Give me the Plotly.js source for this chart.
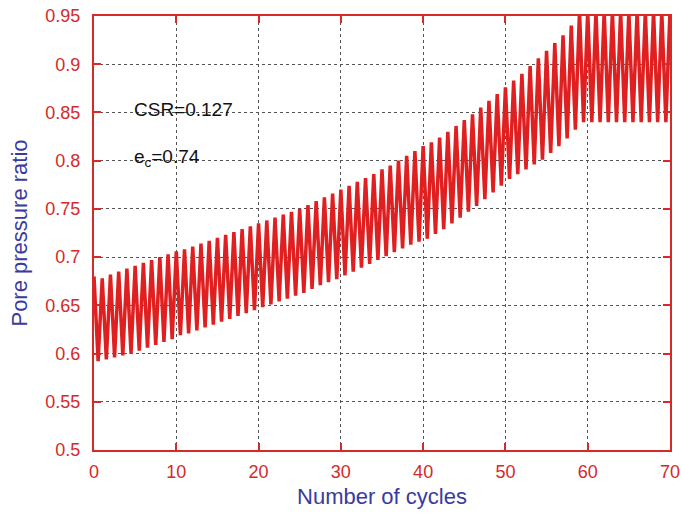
<!DOCTYPE html>
<html>
<head>
<meta charset="utf-8">
<script src="https://cdn.plot.ly/plotly-3.0.1.min.js"></script>
<style>html,body{margin:0;padding:0;background:#fff}#chart{width:682px;height:513px}</style>
</head>
<body>
<div id="chart"></div>
<script>
// Peak values, one per whole cycle (cycle 0 .. 70)
const peakCycles = [0,1,2,3,4,5,6,7,8,9,10,11,12,13,14,15,16,17,18,19,20,21,22,23,24,25,26,27,28,29,30,31,32,33,34,35,36,37,38,39,40,41,42,43,44,45,46,47,48,49,50,51,52,53,54,55,56,57,58,59,60,61,62,63,64,65,66,67,68,69,70];
const peakValues = [0.680,0.678,0.682,0.685,0.688,0.691,0.694,0.697,0.700,0.703,
  0.706,0.708,0.711,0.714,0.717,0.720,0.723,0.726,0.729,0.732,
  0.735,0.738,0.741,0.744,0.747,0.750,0.754,0.758,0.762,0.766,
  0.770,0.774,0.778,0.782,0.786,0.791,0.795,0.800,0.805,0.810,
  0.815,0.819,0.824,0.830,0.836,0.842,0.848,0.855,0.862,0.869,
  0.876,0.883,0.890,0.898,0.906,0.914,0.922,0.930,0.940,0.955,
  0.955,0.955,0.955,0.955,0.955,0.955,0.955,0.955,0.955,0.955,0.955];
// Trough values, one per half cycle (0.5 .. 69.5)
const troughCycles = [0.5,1.5,2.5,3.5,4.5,5.5,6.5,7.5,8.5,9.5,10.5,11.5,12.5,13.5,14.5,15.5,16.5,17.5,18.5,19.5,20.5,21.5,22.5,23.5,24.5,25.5,26.5,27.5,28.5,29.5,30.5,31.5,32.5,33.5,34.5,35.5,36.5,37.5,38.5,39.5,40.5,41.5,42.5,43.5,44.5,45.5,46.5,47.5,48.5,49.5,50.5,51.5,52.5,53.5,54.5,55.5,56.5,57.5,58.5,59.5,60.5,61.5,62.5,63.5,64.5,65.5,66.5,67.5,68.5,69.5];
const troughValues = [0.592,0.594,0.596,0.598,0.600,0.603,0.606,0.609,0.612,0.615,
  0.619,0.621,0.624,0.627,0.630,0.633,0.636,0.639,0.642,0.645,
  0.648,0.651,0.654,0.657,0.660,0.663,0.667,0.671,0.674,0.677,
  0.681,0.685,0.689,0.693,0.697,0.701,0.705,0.709,0.713,0.716,
  0.719,0.724,0.729,0.735,0.741,0.747,0.753,0.760,0.767,0.774,
  0.781,0.786,0.791,0.796,0.801,0.808,0.815,0.823,0.832,0.840,
  0.840,0.840,0.840,0.840,0.840,0.840,0.840,0.840,0.840,0.840];
const xTickVals = [0,10,20,30,40,50,60,70];
const yTickVals = [0.5,0.55,0.6,0.65,0.7,0.75,0.8,0.85,0.9,0.95];
const yTickText = ['0.5','0.55','0.6','0.65','0.7','0.75','0.8','0.85','0.9','0.95'];

// interleave peaks and troughs
const xs = [], ys = [];
for (let i = 0; i < peakCycles.length; i++) {
  xs.push(peakCycles[i]); ys.push(peakValues[i]);
  if (i < troughCycles.length) { xs.push(troughCycles[i]); ys.push(troughValues[i]); }
}

const red = '#d42a2a';
const blue = '#3a3a9e';
const axisCommon = {
  showline: true, linecolor: red, linewidth: 2, mirror: 'ticks',
  ticks: 'inside', ticklen: 7, tickwidth: 2, tickcolor: red,
  showgrid: true, gridcolor: '#555', griddash: 'dot', gridwidth: 1,
  zeroline: false,
  tickfont: {family: 'Liberation Sans, Arial, sans-serif', size: 18, color: red}
};

const trace = {
  x: xs, y: ys, type: 'scatter', mode: 'lines',
  line: {color: '#e02020', width: 3.5},
  hoverinfo: 'skip'
};

const layout = {
  width: 682, height: 513,
  margin: {l: 94, r: 12, t: 16, b: 63},
  paper_bgcolor: '#fff', plot_bgcolor: '#fff',
  showlegend: false,
  font: {family: 'Liberation Sans, Arial, sans-serif'},
  xaxis: Object.assign({}, axisCommon, {
    range: [0, 70], tickvals: xTickVals, ticklabelstandoff: 4,
    title: {text: 'Number of cycles', font: {size: 22, color: blue}, standoff: 8}
  }),
  yaxis: Object.assign({}, axisCommon, {
    range: [0.5, 0.95], tickvals: yTickVals, ticktext: yTickText, ticklabelstandoff: 8,
    title: {text: 'Pore pressure ratio', font: {size: 22, color: blue}, standoff: 12}
  }),
  annotations: [
    {x: 4.6, y: 0.853, xref: 'x', yref: 'y', xanchor: 'left', yanchor: 'middle',
     text: 'CSR=0.127', showarrow: false, font: {size: 19, color: '#111'}},
    {x: 4.6, y: 0.803, xref: 'x', yref: 'y', xanchor: 'left', yanchor: 'middle',
     text: 'e<sub>c</sub>=0.74', showarrow: false, font: {size: 19, color: '#111'}}
  ]
};

Plotly.newPlot('chart', [trace], layout, {staticPlot: true, displayModeBar: false});
</script>
</body>
</html>
